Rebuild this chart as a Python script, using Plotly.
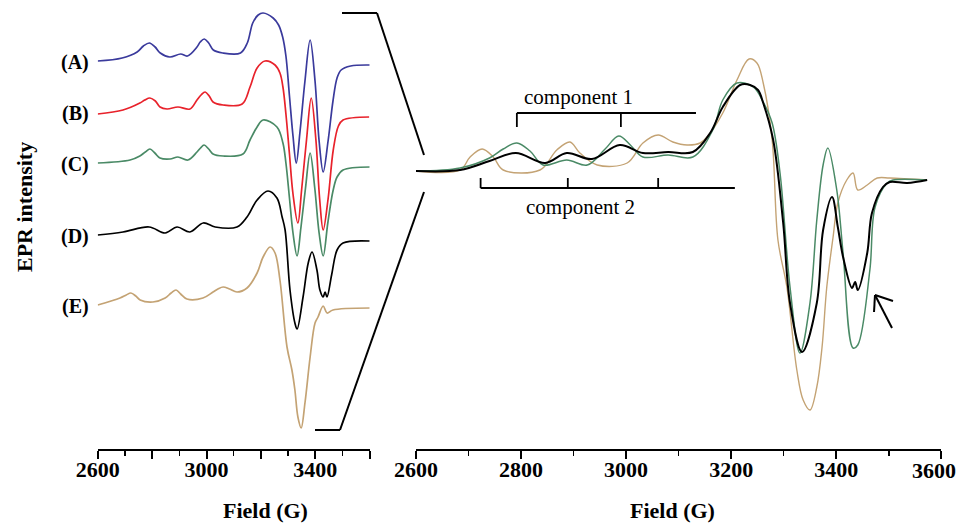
import plotly.graph_objects as go

W, H = 964, 525

# ---------------- data (field in G, intensity in arbitrary units) ----------------
# Left panel: full spectra A-E
FIELD_A = [2600, 2690, 2745, 2768, 2790, 2811, 2830, 2865, 2905, 2930, 2965, 2977, 2992, 3008, 3025, 3060, 3125, 3150, 3170, 3190,
           3208, 3245, 3265, 3280, 3292, 3305, 3318, 3330, 3344, 3362, 3381, 3399, 3414, 3429, 3447, 3465, 3480, 3495, 3530, 3600]
INT_A = [0, 3, 9, 15, 18, 14, 8, 4, 7, 5, 14, 19, 22, 18, 11, 8, 8, 18, 38, 46,
         48, 43, 36, 24, 5, -35, -75, -102, -70, -20, 21, -20, -80, -111, -80, -40, -17, -9, -5, -4]

FIELD_B = [2600, 2693, 2755, 2773, 2792, 2812, 2829, 2855, 2895, 2939, 2965, 2980, 2995, 3010, 3024, 3061, 3131, 3160, 3186, 3215,
           3252, 3270, 3281, 3292, 3305, 3318, 3336, 3350, 3368, 3385, 3402, 3416, 3429, 3447, 3466, 3485, 3502, 3598]
INT_B = [0, 4, 11, 14, 16, 13, 7, 5, 7, 5, 14, 19, 22, 18, 12, 9, 10, 27, 46, 53,
         49, 41, 27, 0, -40, -80, -109, -75, -25, 16, -25, -85, -116, -85, -36, -12, -6, -3]

FIELD_C = [2600, 2719, 2755, 2775, 2792, 2810, 2829, 2866, 2895, 2932, 2965, 2978, 2991, 3008, 3024, 3061, 3134, 3160, 3186, 3208,
           3259, 3281, 3292, 3305, 3318, 3333, 3347, 3364, 3381, 3398, 3414, 3429, 3446, 3465, 3480, 3502, 3600]
INT_C = [0, 3, 7, 11, 14, 10, 5, 4, 6, 3, 11, 15, 18, 14, 9, 7, 9, 23, 36, 43,
         36, 20, 0, -35, -70, -93, -65, -25, 10, -25, -70, -93, -60, -28, -14, -7, -4]

FIELD_D = [2600, 2693, 2789, 2848, 2892, 2939, 2988, 3032, 3112, 3149, 3186, 3226, 3259, 3278, 3289, 3307, 3325, 3333, 3355, 3374,
           3388, 3406, 3417, 3429, 3436, 3443, 3460, 3480, 3502, 3600]
INT_D = [0, 3, 8, 2, 8, 3, 12, 8, 8, 18, 35, 44, 37, 18, 5, -55, -88, -94, -62, -28,
         -17, -35, -55, -62, -57, -62, -40, -15, -8, -6]

FIELD_E = [2600, 2682, 2705, 2722, 2740, 2756, 2803, 2848, 2870, 2888, 2905, 2928, 2987, 3024, 3042, 3061, 3085, 3112, 3149, 3186,
           3208, 3234, 3252, 3270, 3296, 3314, 3325, 3336, 3348, 3362, 3381, 3399, 3410, 3429, 3443, 3465, 3600]
INT_E = [0, 7, 10, 12, 9, 5, 3, 7, 12, 15, 11, 6, 7, 13, 16, 18, 16, 13, 17, 32,
         48, 58, 52, 25, -42, -65, -85, -112, -123, -98, -52, -18, -12, -1, -8, -5, -3]

# Right panel: expanded overlay of C, D, E
FIELD_CZ = [2600, 2684, 2740, 2766, 2792, 2817, 2842, 2887, 2926, 2960, 2986, 3008, 3032, 3080, 3127, 3165, 3184, 3211, 3242, 3261,
            3278, 3293, 3312, 3331, 3350, 3363, 3375, 3384, 3401, 3413, 3432, 3441, 3464, 3474, 3497, 3508, 3573]
INT_CZ = [0, 3, 13, 22, 28, 20, 6, 11, 6, 22, 35, 26, 14, 16, 14, 41, 71, 88, 84, 69,
          48, -2, -116, -182, -132, -49, 6, 23, -19, -82, -177, -174, -99, -36, -12, -9, -9]

FIELD_DZ = [2600, 2684, 2740, 2790, 2846, 2887, 2935, 2988, 3032, 3080, 3127, 3160, 3184, 3217, 3236, 3251, 3261, 3280, 3299, 3312,
            3335, 3363, 3375, 3392, 3403, 3413, 3430, 3436, 3441, 3459, 3468, 3489, 3502, 3535, 3573]
INT_DZ = [0, 1, 10, 18, 8, 18, 12, 26, 18, 19, 19, 38, 64, 86, 86, 81, 68, 31, -52, -132,
          -181, -132, -59, -26, -56, -86, -117, -111, -119, -82, -42, -16, -11, -12, -9]

FIELD_EZ = [2600, 2684, 2703, 2726, 2747, 2766, 2836, 2868, 2893, 2912, 2945, 3002, 3032, 3061, 3089, 3116, 3141, 3154, 3184, 3211,
            3234, 3249, 3261, 3278, 3289, 3306, 3325, 3337, 3350, 3363, 3373, 3382, 3394, 3403, 3420, 3432, 3441, 3459, 3478, 3502, 3573]
INT_EZ = [0, 1, 14, 22, 14, 1, 1, 21, 29, 18, 6, 8, 28, 36, 29, 26, 28, 34, 58, 91,
          112, 108, 88, 31, -69, -116, -199, -229, -239, -216, -176, -116, -66, -32, -9, -2, -19, -14, -7, -7, -9]

LABELS = ["(A)", "(B)", "(C)", "(D)", "(E)"]
COMP1_LINES = [2792, 2990]
COMP1_END = 3133
COMP2_LINES = [2723, 2889, 3061]
COMP2_END = 3207

LEFT_TICKS = [2600, 2800, 3000, 3200, 3400, 3600]
LEFT_TICKTEXT = ["2600", "", "3000", "", "3400", ""]
RIGHT_TICKS = [2600, 2800, 3000, 3200, 3400, 3600]
RIGHT_TICKTEXT = ["2600", "2800", "3000", "3200", "3400", ""]

# ---------------- style ----------------
COLORS = ["#3a3a9c", "#e8222b", "#4a8a66", "#000000", "#c4a374"]
OFFSETS_LEFT = [-61, -114, -163, -235, -305]   # vertical stacking offsets
OFFSET_RIGHT = -171
LABEL_Y = [62, 113, 164, 237, 306]
SERIF = "Liberation Serif, Times New Roman, serif"
SMOOTH = 1.0


def paper(xp, yp):
    return xp / W, 1 - yp / H


fig = go.Figure()

left_fields = [FIELD_A, FIELD_B, FIELD_C, FIELD_D, FIELD_E]
left_ints = [INT_A, INT_B, INT_C, INT_D, INT_E]
for f, i, c, off in zip(left_fields, left_ints, COLORS, OFFSETS_LEFT):
    fig.add_trace(go.Scatter(x=f, y=[off + v for v in i], mode="lines",
                             line=dict(color=c, width=1.7, shape="spline", smoothing=SMOOTH),
                             xaxis="x", yaxis="y", showlegend=False, hoverinfo="skip"))

right = [(FIELD_EZ, INT_EZ, COLORS[4], 1.4), (FIELD_CZ, INT_CZ, COLORS[2], 1.5), (FIELD_DZ, INT_DZ, COLORS[3], 2.0)]
for f, i, c, w in right:
    fig.add_trace(go.Scatter(x=f, y=[OFFSET_RIGHT + v for v in i], mode="lines",
                             line=dict(color=c, width=w, shape="spline", smoothing=SMOOTH),
                             xaxis="x2", yaxis="y2", showlegend=False, hoverinfo="skip"))

tickfont = dict(family=SERIF, size=22, color="black", weight="bold")
axis_common = dict(range=[2600, 3600], showline=True, linecolor="black", linewidth=2,
                   ticks="outside", ticklen=8, tickwidth=2, tickcolor="black",
                   showgrid=False, zeroline=False, tickfont=tickfont, automargin=False,
                   ticklabelstandoff=-8)

ydom = [1 - 449 / H, 1]
fig.update_layout(
    width=W, height=H, autosize=False,
    margin=dict(l=0, r=0, t=0, b=0),
    paper_bgcolor="white", plot_bgcolor="white",
    xaxis=dict(domain=[97.7 / W, 369.7 / W], anchor="y", tickmode="array",
               tickvals=LEFT_TICKS, ticktext=LEFT_TICKTEXT,
               minor=dict(ticks="outside", ticklen=5, tickwidth=1.5, tickcolor="black",
                          tickvals=[2700, 2900, 3100, 3300, 3500]),
               **axis_common),
    xaxis2=dict(domain=[416 / W, 941.3 / W], anchor="y2", tickmode="array",
                tickvals=RIGHT_TICKS, ticktext=RIGHT_TICKTEXT,
                minor=dict(ticks="outside", ticklen=5, tickwidth=1.5, tickcolor="black",
                           tickvals=[2700, 2900, 3100, 3300, 3500]),
                **axis_common),
    yaxis=dict(domain=ydom, range=[-449, 0], visible=False, fixedrange=True),
    yaxis2=dict(domain=ydom, range=[-449, 0], visible=False, fixedrange=True, anchor="x2"),
)

shapes = []


def seg(p0, p1, width=2):
    x0, y0 = paper(*p0)
    x1, y1 = paper(*p1)
    return dict(type="line", xref="paper", yref="paper", x0=x0, y0=y0, x1=x1, y1=y1,
                line=dict(color="black", width=width))


# zoom connector lines
shapes += [seg((342, 13), (377, 13)), seg((377, 13), (424, 155)),
           seg((315, 430), (340, 430)), seg((340, 430), (424, 192))]
# arrow
shapes += [seg((892, 328), (875, 295), 2), seg((875, 295), (893, 301), 2), seg((875, 295), (874, 312), 2)]

# component brackets in right-axis data coordinates
C1_Y, C1_TICK = -113, -127
C2_Y, C2_TICK = -188, -178
shapes.append(dict(type="line", xref="x2", yref="y2", x0=COMP1_LINES[0], x1=COMP1_END, y0=C1_Y, y1=C1_Y,
                   line=dict(color="black", width=1.8)))
for v in COMP1_LINES:
    shapes.append(dict(type="line", xref="x2", yref="y2", x0=v, x1=v, y0=C1_Y, y1=C1_TICK,
                       line=dict(color="black", width=1.8)))
shapes.append(dict(type="line", xref="x2", yref="y2", x0=COMP2_LINES[0], x1=COMP2_END, y0=C2_Y, y1=C2_Y,
                   line=dict(color="black", width=1.8)))
for v in COMP2_LINES:
    shapes.append(dict(type="line", xref="x2", yref="y2", x0=v, x1=v, y0=C2_Y, y1=C2_TICK,
                       line=dict(color="black", width=1.8)))
fig.update_layout(shapes=shapes)

ann = []


def text(xp, yp, s, size, bold=True, angle=0, xanchor="center"):
    x, y = paper(xp, yp)
    ann.append(dict(x=x, y=y, xref="paper", yref="paper", text=s, showarrow=False,
                    textangle=angle, xanchor=xanchor, yanchor="middle",
                    font=dict(family=SERIF, size=size, color="black",
                              weight="bold" if bold else "normal")))


for lab, yp in zip(LABELS, LABEL_Y):
    text(91, yp, lab, 20, xanchor="right")
text(24, 207, "EPR intensity", 22, angle=-90)
text(265, 510, "Field (G)", 22)
text(672, 510, "Field (G)", 22)
text(578, 97, "component 1", 21, bold=False)
text(580, 207, "component 2", 21, bold=False)
text(934, 470, "3600", 22)
fig.update_layout(annotations=ann)

fig.write_html("out.html", config={"displayModeBar": False, "staticPlot": True},
               post_script="document.body.style.margin='0px';document.body.style.overflow='hidden';")
